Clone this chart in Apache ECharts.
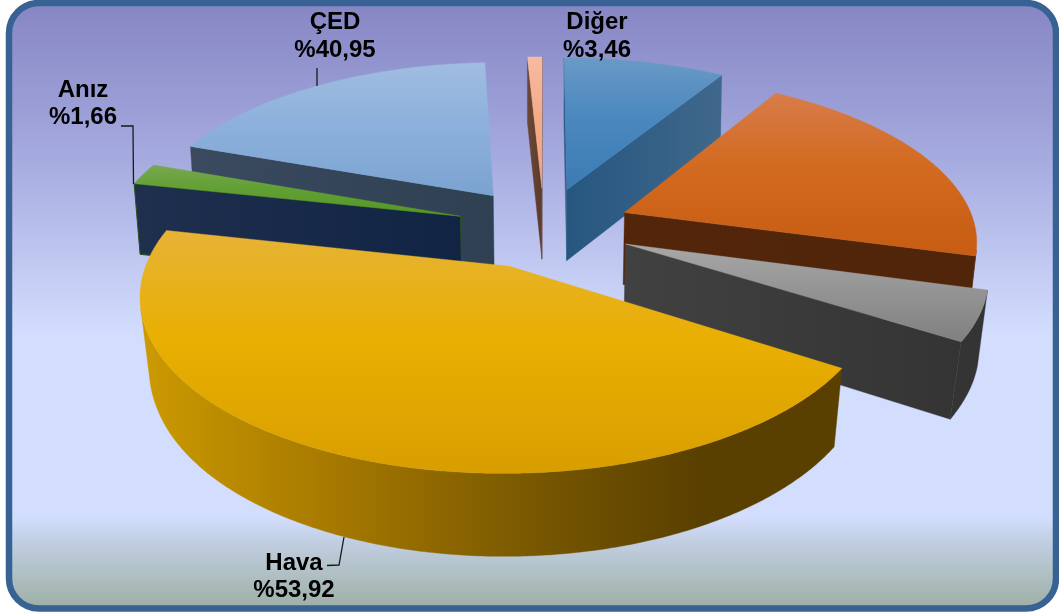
<!DOCTYPE html>
<html>
<head>
<meta charset="utf-8">
<style>html,body{margin:0;padding:0;background:#fff}#c{width:1059px;height:612px}</style>
<script src="https://cdn.jsdelivr.net/npm/echarts@6/dist/echarts.min.js"></script>
</head>
<body>
<div id="c"></div>
<script>
// ---- data (slice sizes in %, clockwise from 12 o'clock)
const sliceNames  = ['Mavi', 'Turuncu', 'Gri', 'Hava', 'Anız', 'ÇED', 'Diğer'];
const sliceValues = [8.75, 20.5, 4.75, 44.4, 2.1, 18.7, 0.8];
// ---- printed labels
const labelNames  = ['ÇED', 'Diğer', 'Anız', 'Hava'];
const labelShares = ['%40,95', '%3,46', '%1,66', '%53,92'];

// ---- layout & style
const paintOrder = [6, 0, 5, 1, 4, 2, 3];
const topColors = [
  ['#6a9ac6', '#4a88bf', '#3c7bb3'],
  ['#d87c4a', '#d26a20', '#c75c12'],
  ['#a8a8a8', '#959595', '#808080'],
  ['#e6b336', '#e9af02', '#d89e00'],
  ['#78a850', '#62a034', '#559528'],
  ['#a0bde0', '#8db1dc', '#7ba3d0'],
  ['#f5bba3', '#f4ab88', '#f4a37e']
];
const faceColors = [
  ['#26567f', '#40688c'],
  ['#53260a', '#50250a'],
  ['#414141', '#343434'],
  ['#5a4000', '#5a4000'],
  ['#1f2f4e', '#112444'],
  ['#3b4a5f', '#2f4052'],
  ['#6d4737', '#5b3a2c']
];
const wallColors = {
  0: '#40688c', 1: '#50250a', 2: '#343434', 4: '#1f2f4e', 5: '#3b4a5f', 6: '#6d4737',
  3: { type: 'linear', x: 140, y: 0, x2: 700, y2: 0, global: true, colorStops: [
    { offset: 0, color: '#cc9a00' }, { offset: 0.35, color: '#a57800' },
    { offset: 0.72, color: '#765600' }, { offset: 1, color: '#5a4000' }] }
};
const labelPos = [[335, 22.5], [597, 22.5], [83, 90], [294, 563]];
const lineGap = 27.5;
const leaders = [
  [[317, 68], [317, 86]],
  [],
  [[121, 126], [133, 126], [133.5, 184]],
  [[327, 565.5], [339, 565], [344, 537]]
];
// perspective of the pie plane
const proj = { cx: 544, horizon: -838.6, F: 6999, G: 2305, d0: 6.566, explode: 0.25 };

const total = sliceValues.reduce((a, b) => a + b, 0);
const startAngles = [];
sliceValues.reduce((acc, v, i) => { startAngles[i] = acc; return acc + v / total * 360; }, 0);

function project(u, v, low) {
  const d = proj.d0 - v;
  const y = proj.horizon + proj.F / d;
  const x = proj.cx + proj.G * u / d;
  if (!low) return [x, y];
  // lower rim: thickness grows towards the viewer, verticals converge slightly
  const thick = 27.5 + 0.0423 * (y - proj.horizon);
  const kappa = Math.min(0.026, 0.012 + (y - 150) * 7.6e-5);
  return [proj.cx + (x - proj.cx) * (1 - kappa), y + thick];
}
const rad = a => a * Math.PI / 180;
function area(p) {
  let s = 0;
  for (let i = 0; i < p.length; i++) {
    const q = p[(i + 1) % p.length];
    s += p[i][0] * q[1] - q[0] * p[i][1];
  }
  return s / 2;
}
function vGrad(c) {
  return new echarts.graphic.LinearGradient(0, 0, 0, 1, [
    { offset: 0, color: c[0] }, { offset: 0.45, color: c[1] }, { offset: 1, color: c[2] }
  ]);
}
function hGrad(c) {
  return new echarts.graphic.LinearGradient(0, 0, 1, 0, [
    { offset: 0, color: c[0] }, { offset: 1, color: c[1] }
  ]);
}

function renderSlice(params, api) {
  const i = paintOrder[params.dataIndex];
  const a0 = startAngles[i];
  const a1 = a0 + api.value(0) / total * 360;
  const mid = rad((a0 + a1) / 2);
  const ou = proj.explode * Math.sin(mid), ov = -proj.explode * Math.cos(mid);
  const pt = (a, low) => project(ou + Math.sin(rad(a)), ov - Math.cos(rad(a)), low);
  const apexT = project(ou, ov, false), apexB = project(ou, ov, true);
  const children = [];
  const base = params.dataIndex * 10;
  const poly = (points, fill, z, stroke) => children.push({
    type: 'polygon', shape: { points }, z2: base + z,
    style: { fill, stroke: stroke || fill, lineWidth: stroke ? 1 : 0.4 }
  });
  // outer wall: only the segments facing the viewer
  const steps = Math.max(4, Math.round(a1 - a0) * 2);
  let upper = [], lower = [];
  const flush = () => {
    if (upper.length > 1) {
      poly(upper.concat(lower.slice().reverse()), wallColors[i], 1);
    }
    upper = []; lower = [];
  };
  for (let k = 0; k < steps; k++) {
    const b0 = a0 + (a1 - a0) * k / steps, b1 = a0 + (a1 - a0) * (k + 1) / steps;
    const q = [pt(b0, false), pt(b1, false), pt(b1, true), pt(b0, true)];
    if (area(q) < 0) {
      if (!upper.length) { upper.push(q[0]); lower.push(q[3]); }
      upper.push(q[1]); lower.push(q[2]);
    } else flush();
  }
  flush();
  // cut faces
  const fs = [apexT, pt(a0, false), pt(a0, true), apexB];
  if (area(fs) < 0) poly(fs, hGrad(faceColors[i]), 2, i === 4 ? '#2c5218' : null);
  const fe = [apexT, pt(a1, false), pt(a1, true), apexB];
  if (area(fe) > 0) poly(fe, hGrad(faceColors[i]), 2);
  // top
  const topPts = [apexT];
  for (let k = 0; k <= steps; k++) topPts.push(pt(a0 + (a1 - a0) * k / steps, false));
  poly(topPts, vGrad(topColors[i]), 3);
  return { type: 'group', children };
}

function renderLabel(params) {
  const i = params.dataIndex;
  const [x, y] = labelPos[i];
  const font = 'bold 24px "Liberation Sans", Arial, sans-serif';
  const children = [
    { type: 'text', style: { x, y, text: labelNames[i], font, fill: '#000', align: 'center', verticalAlign: 'middle' } },
    { type: 'text', style: { x, y: y + lineGap, text: labelShares[i], font, fill: '#000', align: 'center', verticalAlign: 'middle' } }
  ];
  if (leaders[i].length) children.push({
    type: 'polyline', shape: { points: leaders[i] },
    style: { stroke: '#1a1a1a', lineWidth: 1.3, fill: null }
  });
  return { type: 'group', children };
}

const chart = echarts.init(document.getElementById('c'), null, { renderer: 'canvas' });
chart.setOption({
  animation: false,
  graphic: [{
    type: 'rect', z: -10, silent: true,
    shape: { x: 9, y: 3, width: 1047, height: 605.5, r: 30 },
    style: {
      lineWidth: 6.5, stroke: '#386293',
      fill: new echarts.graphic.LinearGradient(0, 0, 0, 1, [
        { offset: 0, color: '#8585c3' },
        { offset: 0.25, color: '#a4a9de' },
        { offset: 0.55, color: '#d3defe' },
        { offset: 0.845, color: '#d3defe' },
        { offset: 0.88, color: '#c3d0e5' },
        { offset: 1, color: '#9baea1' }
      ])
    }
  }],
  series: [
    {
      type: 'custom', coordinateSystem: 'none', silent: true, z: 2,
      renderItem: renderSlice,
      data: paintOrder.map(i => ({ name: sliceNames[i], value: [sliceValues[i]] }))
    },
    {
      type: 'custom', coordinateSystem: 'none', silent: true, z: 5,
      renderItem: renderLabel,
      data: labelNames.map((n, i) => ({ name: n, value: [parseFloat(labelShares[i].slice(1).replace(',', '.'))] }))
    }
  ]
});
</script>
</body>
</html>
